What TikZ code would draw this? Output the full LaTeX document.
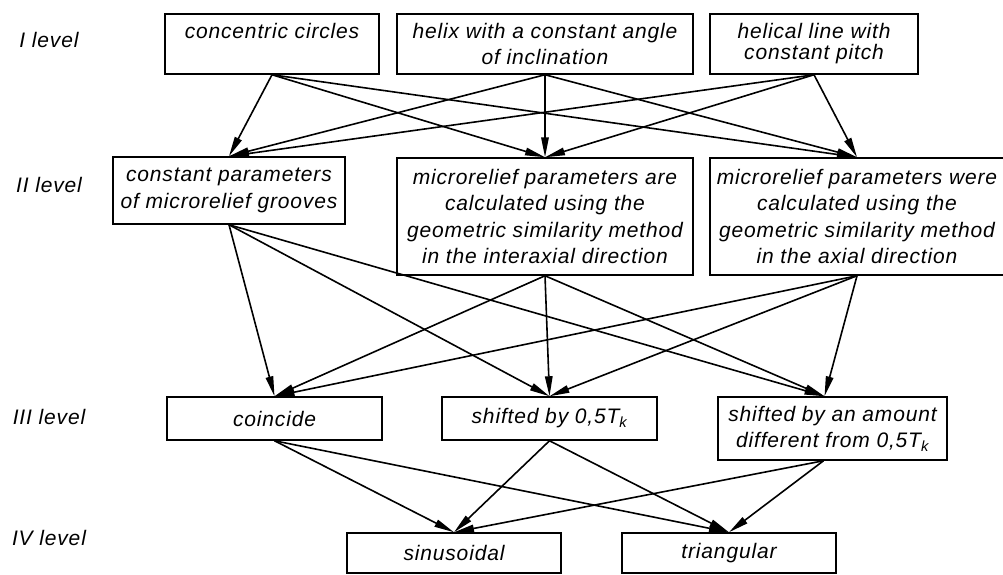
\documentclass[tikz,border=0pt]{standalone}
\usepackage{fontspec}
\usetikzlibrary{arrows.meta}
\newfontfamily\diagfont{Liberation Sans}[LetterSpace=4]
\newcommand{\boxfont}{\diagfont\itshape\fontsize{21}{26.5}\selectfont}
\newcommand{\tightfont}{\diagfont\itshape\fontsize{21}{21}\selectfont}
\newcommand{\Tk}{T\textsubscript{k}}

\tikzset{
  stage/.style={draw, line width=1.5pt, inner sep=0pt, align=center, font=\boxfont},
  lvl/.style={font=\boxfont, inner sep=0pt},
  link/.style={line width=1.6pt, -{Triangle[length=20pt,width=7.5pt]}}
}

\begin{document}
\begin{tikzpicture}[x=1pt, y=-1pt]
  \useasboundingbox (0,0) rectangle (1003,574);
  % level labels
  \node[lvl] (L1) at (49,40) {I level};
  \node[lvl] (L2) at (49,185) {II level};
  \node[lvl] (L3) at (49,417) {III level};
  \node[lvl] (L4) at (49,538) {IV level};
  % I level
  \node[stage, minimum width=214, minimum height=60] (A1) at (272,44) {concentric circles\\ \mbox{}};
  \node[stage, minimum width=296, minimum height=60] (A2) at (545,44) {helix with a constant angle\\of inclination};
  \node[stage, minimum width=208, minimum height=60, font=\tightfont] (A3) at (814,44) {helical line with\\constant pitch};
  % II level
  \node[stage, minimum width=232, minimum height=67] (B1) at (229,190.5) {constant parameters\\of microrelief grooves};
  \node[stage, minimum width=296, minimum height=117] (B2) at (545,216.5) {microrelief parameters are\\calculated using the\\geometric similarity method\\in the interaxial direction};
  \node[stage, minimum width=294, minimum height=117] (B3) at (857,216.5) {microrelief parameters were\\calculated using the\\geometric similarity method\\in the axial direction};
  % III level
  \node[stage, minimum width=215, minimum height=43] (C1) at (274.5,418.5) {coincide};
  \node[stage, minimum width=215, minimum height=43] (C2) at (549.5,418.5) {shifted by 0,5\Tk};
  \node[stage, minimum width=229, minimum height=63] (C3) at (832.5,428.5) {shifted by an amount\\different from 0,5\Tk};
  % IV level
  \node[stage, minimum width=214, minimum height=40] (D1) at (454,553) {sinusoidal};
  \node[stage, minimum width=214, minimum height=40] (D2) at (729,553) {triangular};
  % connectors
  \foreach \s in {A1,A2,A3}
    \foreach \t in {B1,B2,B3}
      \draw[link] (\s.south) -- (\t.north);
  \foreach \s in {B1,B2,B3} {
    \draw[link] (\s.south) -- (C1.north);
    \draw[link] (\s.south) -- (C2.north);
    \draw[link] (\s.south) -- ([xshift=-8pt]C3.north);
  }
  \foreach \t in {D1,D2} {
    \draw[link] (C1.south) -- (\t.north);
    \draw[link] (C2.south) -- (\t.north);
    \draw[link] ([xshift=-9pt]C3.south) -- (\t.north);
  }
\end{tikzpicture}
\end{document}
